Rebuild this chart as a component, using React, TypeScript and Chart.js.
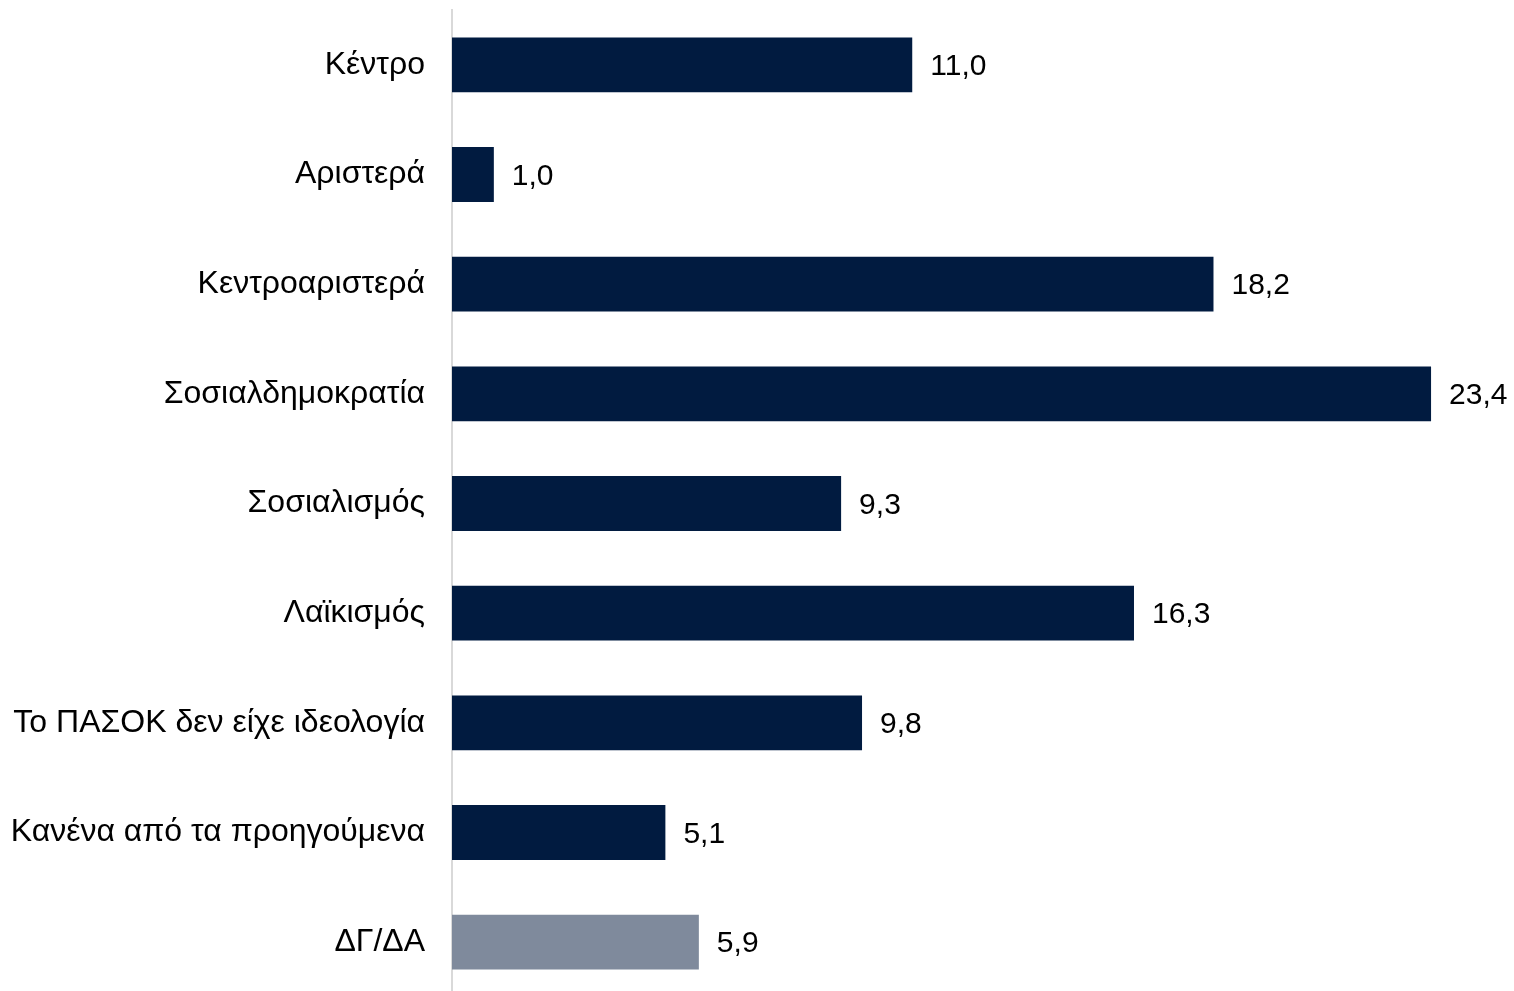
import React, { useEffect, useRef } from "react";
import { Chart, registerables } from "chart.js";

Chart.register(...registerables);

const categories = [
  "Κέντρο",
  "Αριστερά",
  "Κεντροαριστερά",
  "Σοσιαλδημοκρατία",
  "Σοσιαλισμός",
  "Λαϊκισμός",
  "Το ΠΑΣΟΚ δεν είχε ιδεολογία",
  "Κανένα από τα προηγούμενα",
  "ΔΓ/ΔΑ",
];
const values = [11.0, 1.0, 18.2, 23.4, 9.3, 16.3, 9.8, 5.1, 5.9];
const barColors = [
  "#011B40", "#011B40", "#011B40", "#011B40", "#011B40",
  "#011B40", "#011B40", "#011B40", "#7F8A9C",
];

const FONT = '"Liberation Sans", Arial, sans-serif';
const FONT_SIZE = 32;
const VALUE_FONT_SIZE = 30;

const valueLabels = {
  id: "valueLabels",
  afterDatasetsDraw(chart: any) {
    const ctx = chart.ctx;
    const meta = chart.getDatasetMeta(0);
    ctx.save();
    ctx.font = `${VALUE_FONT_SIZE}px ${FONT}`;
    ctx.fillStyle = "#000000";
    ctx.textAlign = "left";
    ctx.textBaseline = "middle";
    meta.data.forEach((bar: any, i: number) => {
      const txt = values[i].toFixed(1).replace(".", ",");
      ctx.fillText(txt, bar.x + 18, bar.y + 2);
    });
    ctx.restore();
  },
};

export default function App() {
  const ref = useRef<HTMLCanvasElement | null>(null);
  useEffect(() => {
    document.body.style.overflow = "hidden";
    const chart = new Chart(ref.current as HTMLCanvasElement, {
      type: "bar",
      data: {
        labels: categories,
        datasets: [
          {
            data: values,
            backgroundColor: barColors,
            borderWidth: 0,
            barPercentage: 0.5,
            categoryPercentage: 1,
          },
        ],
      },
      options: {
        indexAxis: "y",
        animation: false,
        responsive: false,
        maintainAspectRatio: false,
        layout: { padding: { top: 10, right: 16, bottom: 0, left: 0 } },
        plugins: {
          legend: { display: false },
          tooltip: { enabled: false },
        },
        scales: {
          x: {
            display: false,
            min: 0,
            max: 25,
          },
          y: {
            grid: { display: false },
            border: { display: true, color: "#D9D9D9", width: 2 },
            ticks: {
              color: "#000000",
              padding: 19,
              font: { family: FONT, size: FONT_SIZE },
            },
            afterFit(scale: any) {
              scale.width = 452;
              scale.paddingTop = 0;
              scale.paddingBottom = 0;
            },
          },
        },
      },
      plugins: [valueLabels],
    });
    return () => chart.destroy();
  }, []);
  return (
    <div style={{ position: "fixed", left: 0, top: 0, width: 1514, height: 997 }}>
      <canvas ref={ref} width={1514} height={997} style={{ width: 1514, height: 997 }} />
    </div>
  );
}
